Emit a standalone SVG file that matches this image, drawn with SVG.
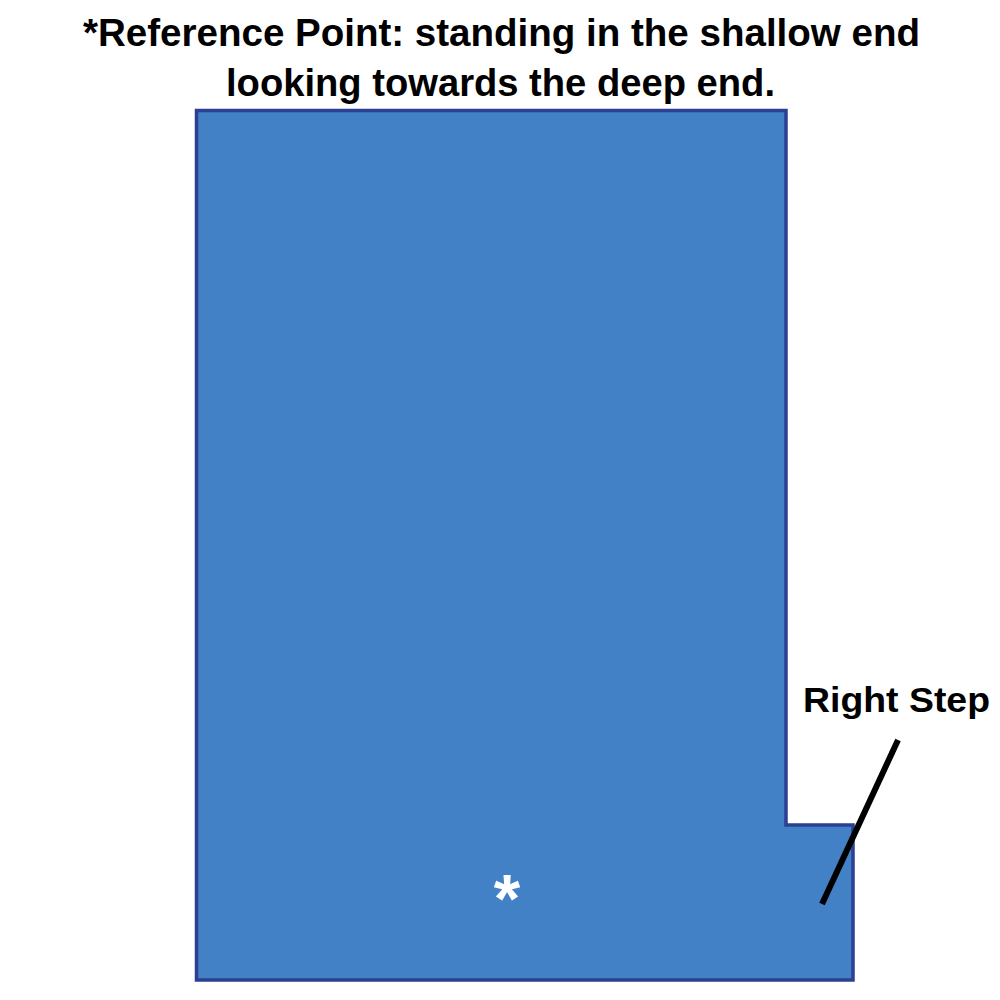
<svg xmlns="http://www.w3.org/2000/svg" width="1000" height="1000" viewBox="0 0 1000 1000">
<style>
.t{font-family:"Liberation Sans",Arial,sans-serif;font-weight:bold;fill:#000}
</style>
<rect width="1000" height="1000" fill="#fff"/>
<g id="pool">
<path d="M196.5,110.5 H786 V825 H853 V980 H196.5 Z" fill="#4281C5" stroke="#2B3F93" stroke-width="3.5"/>
<text x="507" y="922" text-anchor="middle" font-family="Liberation Sans,Arial,sans-serif" font-weight="bold" font-size="68" fill="#fff">*</text>
</g>
<g id="title">
<text class="t" x="83" y="46" font-size="39" textLength="837" lengthAdjust="spacingAndGlyphs">*Reference Point: standing in the shallow end</text>
<text class="t" x="226" y="96" font-size="39" textLength="549" lengthAdjust="spacingAndGlyphs">looking towards the deep end.</text>
</g>
<g id="label">
<text class="t" x="803" y="712" font-size="35" textLength="187" lengthAdjust="spacingAndGlyphs">Right Step</text>
</g>
<g id="connectors">
<line x1="898" y1="740" x2="822" y2="904" stroke="#000" stroke-width="6"/>
</g>
</svg>
